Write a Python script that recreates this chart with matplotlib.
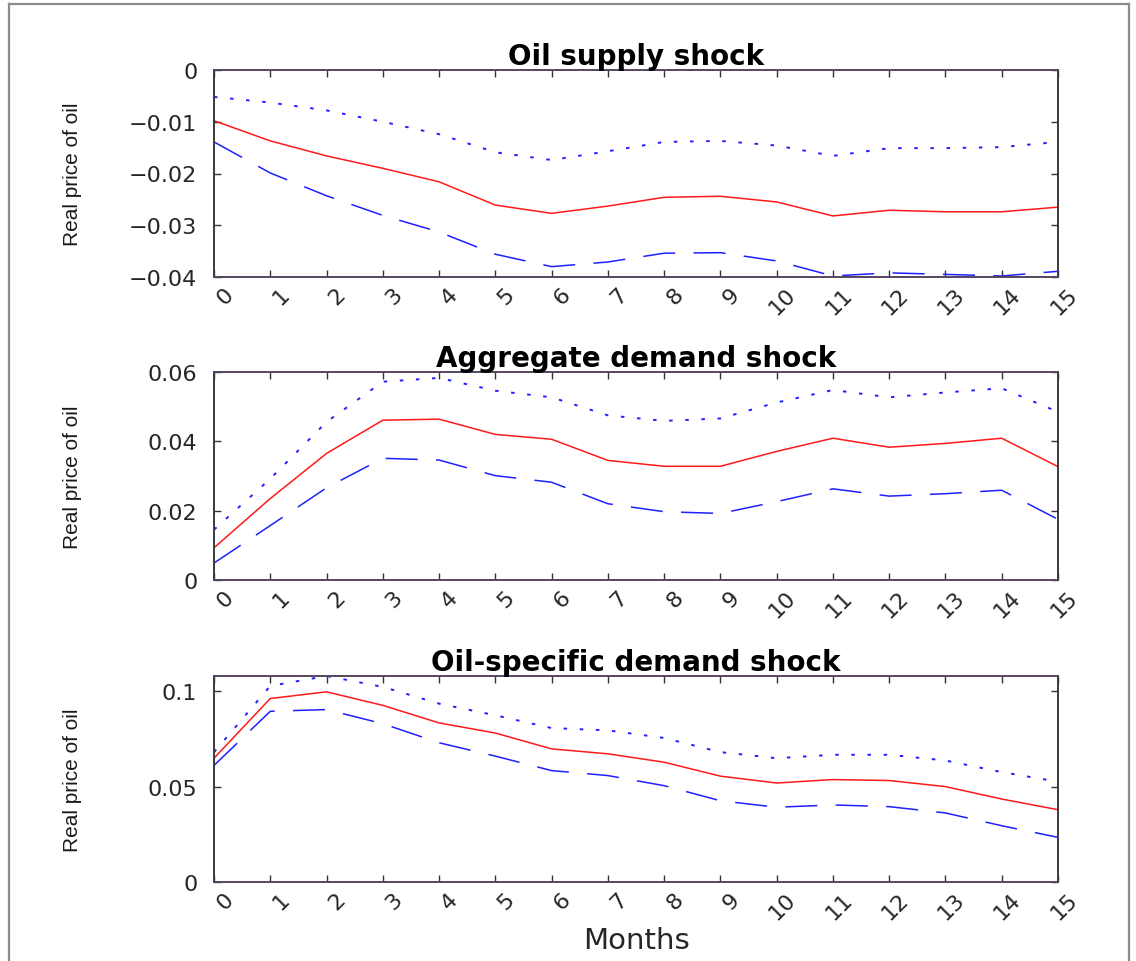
import matplotlib
matplotlib.use("Agg")
import matplotlib.pyplot as plt
from matplotlib.ticker import FixedLocator, FuncFormatter
from matplotlib.lines import Line2D
from matplotlib.transforms import ScaledTranslation

# Impulse responses of the real price of oil (horizon in months)
months = list(range(16))

titles = ["Oil supply shock", "Aggregate demand shock", "Oil-specific demand shock"]

# Oil supply shock
supply_resp = [-0.0098, -0.0137, -0.0166, -0.0190, -0.0216, -0.0261, -0.0277, -0.0263,
               -0.0246, -0.0244, -0.0255, -0.0282, -0.0271, -0.0274, -0.0274, -0.0265]
supply_upper = [-0.0052, -0.0063, -0.0078, -0.0100, -0.0124, -0.0159, -0.0174, -0.0157,
                -0.0139, -0.0137, -0.0146, -0.0166, -0.0151, -0.0151, -0.0149, -0.0139]
supply_lower = [-0.0139, -0.0199, -0.0243, -0.0281, -0.0313, -0.0356, -0.0380, -0.0371,
                -0.0354, -0.0353, -0.0369, -0.0398, -0.0392, -0.0395, -0.0398, -0.0389]

# Aggregate demand shock
agg_resp = [0.0093, 0.0235, 0.0365, 0.0461, 0.0464, 0.0420, 0.0406, 0.0345,
            0.0328, 0.0328, 0.0371, 0.0409, 0.0383, 0.0394, 0.0409, 0.0327]
agg_upper = [0.0145, 0.0292, 0.0456, 0.0572, 0.0583, 0.0546, 0.0527, 0.0475,
             0.0459, 0.0466, 0.0512, 0.0548, 0.0527, 0.0541, 0.0553, 0.0485]
agg_lower = [0.0049, 0.0157, 0.0266, 0.0351, 0.0346, 0.0301, 0.0282, 0.0220,
             0.0197, 0.0192, 0.0226, 0.0263, 0.0242, 0.0249, 0.0259, 0.0175]

# Oil-specific demand shock
spec_resp = [0.0649, 0.0962, 0.0997, 0.0926, 0.0834, 0.0781, 0.0698, 0.0672,
             0.0628, 0.0555, 0.0519, 0.0537, 0.0532, 0.0500, 0.0435, 0.0379]
spec_upper = [0.0680, 0.1028, 0.1080, 0.1023, 0.0935, 0.0874, 0.0807, 0.0795,
              0.0755, 0.0681, 0.0649, 0.0667, 0.0667, 0.0637, 0.0576, 0.0526]
spec_lower = [0.0611, 0.0895, 0.0904, 0.0830, 0.0730, 0.0660, 0.0584, 0.0558,
              0.0505, 0.0426, 0.0392, 0.0404, 0.0395, 0.0362, 0.0295, 0.0234]

y_limits = [(-0.04, 0.0), (0.0, 0.06), (0.0, 0.108)]
y_ticks = [[-0.04, -0.03, -0.02, -0.01, 0.0],
           [0.0, 0.02, 0.04, 0.06],
           [0.0, 0.05, 0.1]]

responses = [supply_resp, agg_resp, spec_resp]
uppers = [supply_upper, agg_upper, spec_upper]
lowers = [supply_lower, agg_lower, spec_lower]

W, H = 1136, 962
fig = plt.figure(figsize=(W / 100, H / 100), dpi=100)
fig.patch.set_facecolor("white")

# light frame around the figure
frame_kw = dict(color="#8c8c8c", lw=1.6, transform=fig.transFigure)
fig.add_artist(Line2D([9 / W, 9 / W], [0, 1 - 5 / H], **frame_kw))
fig.add_artist(Line2D([9 / W, 1129 / W], [1 - 5 / H, 1 - 5 / H], **frame_kw))
fig.add_artist(Line2D([1129 / W, 1129 / W], [0, 1 - 5 / H], **frame_kw))

# axes boxes in pixel coordinates: (top, bottom)
ax_left, ax_right = 214, 1058
boxes = [(71, 278), (373, 581), (677, 883)]


def fmt(v, pos):
    s = "{:g}".format(round(v, 4))
    return s.replace("-", "\u2212")


tick_font = "DejaVu Sans"
label_shift = ScaledTranslation(16 / 100, 0, fig.dpi_scale_trans)

for i, (top, bot) in enumerate(boxes):
    ax = fig.add_axes([ax_left / W, 1 - bot / H, (ax_right - ax_left) / W, (bot - top) / H])
    ax.plot(months, uppers[i], color="#1f1fff", lw=1.4, linestyle=(0, (1.8, 6.5)))
    ax.plot(months, lowers[i], color="#1f1fff", lw=1.1, linestyle=(0, (21, 12)))
    ax.plot(months, responses[i], color="#ff1a1a", lw=1.1)

    ax.set_xlim(0, 15)
    ax.set_ylim(*y_limits[i])
    ax.xaxis.set_major_locator(FixedLocator(months))
    ax.yaxis.set_major_locator(FixedLocator(y_ticks[i]))
    ax.yaxis.set_major_formatter(FuncFormatter(fmt))
    ax.tick_params(direction="in", length=5, width=1.0, color="#333333",
                   top=True, right=True)
    ax.tick_params(axis="y", pad=12, labelsize=16, labelcolor="#262626")
    ax.tick_params(axis="x", pad=10, labelsize=16, labelcolor="#262626")
    for lab in ax.get_xticklabels():
        lab.set_rotation(45)
        lab.set_rotation_mode("anchor")
        lab.set_ha("right")
        lab.set_va("center")
        lab.set_family(tick_font)
        lab.set_transform(lab.get_transform() + label_shift)
    for lab in ax.get_yticklabels():
        lab.set_family(tick_font)
    for side, sp in ax.spines.items():
        sp.set_linewidth(1.4)
        sp.set_color("#3a3a3a" if side in ("left", "right") else "#54465e")

    ax.set_title(titles[i], fontsize=20, fontweight="bold", family=tick_font, pad=4)
    ax.set_ylabel("Real price of oil", fontsize=15, family="Liberation Sans",
                  color="#1a1a1a", va="center")
    ax.yaxis.set_label_coords((72 - ax_left) / (ax_right - ax_left), 0.5)

    if i == 2:
        ax.set_xlabel("Months", fontsize=21, family=tick_font, color="#262626", labelpad=2)

fig.savefig("out.png", dpi=100, facecolor="white")
